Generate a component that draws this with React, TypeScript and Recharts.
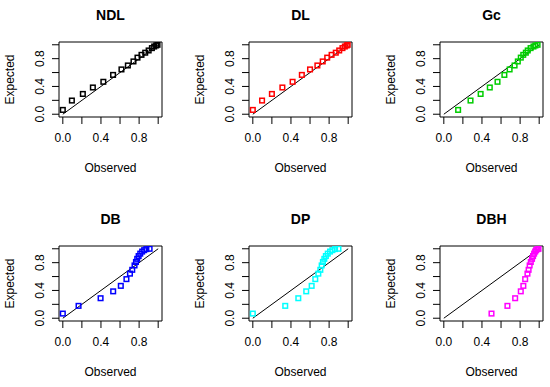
import React from 'react';
import { ScatterChart, Scatter, XAxis, YAxis, ReferenceLine, ReferenceArea } from 'recharts';

const FONT = '"Liberation Sans", Arial, Helvetica, sans-serif';

const panelNames = ['NDL', 'DL', 'Gc', 'DB', 'DP', 'DBH'];
const panelColors = ['#000000', '#FF0000', '#00CD00', '#0000FF', '#00FFFF', '#FF00FF'];

const expectedTop = [0.062, 0.197, 0.292, 0.385, 0.467, 0.566, 0.645, 0.702, 0.76, 0.815, 0.855, 0.886, 0.918, 0.952, 0.975, 0.99, 1.0];
const expectedBottom = [0.067, 0.178, 0.288, 0.387, 0.466, 0.563, 0.642, 0.697, 0.76, 0.81, 0.855, 0.895, 0.93, 0.96, 0.98, 0.995, 1.0];

const observedNDL = [0.0, 0.095, 0.21, 0.315, 0.425, 0.527, 0.615, 0.682, 0.741, 0.783, 0.825, 0.864, 0.9, 0.934, 0.958, 0.979, 0.993];
const observedDL = [0.0, 0.097, 0.2, 0.31, 0.417, 0.514, 0.6, 0.677, 0.733, 0.78, 0.826, 0.87, 0.906, 0.94, 0.965, 0.985, 0.995];
const observedGc = [0.15, 0.28, 0.386, 0.482, 0.563, 0.635, 0.69, 0.742, 0.776, 0.807, 0.833, 0.86, 0.88, 0.91, 0.94, 0.96, 0.983];
const observedDB = [0.0, 0.165, 0.396, 0.528, 0.608, 0.667, 0.704, 0.728, 0.752, 0.767, 0.78, 0.795, 0.812, 0.832, 0.853, 0.876, 0.91];
const observedDP = [0.0, 0.34, 0.477, 0.56, 0.617, 0.655, 0.687, 0.708, 0.722, 0.735, 0.75, 0.766, 0.786, 0.81, 0.834, 0.862, 0.898];
const observedDBH = [0.5, 0.667, 0.748, 0.807, 0.834, 0.853, 0.877, 0.889, 0.9, 0.912, 0.925, 0.936, 0.947, 0.958, 0.968, 0.982, 0.993];

const axisTicks = [0, 0.2, 0.4, 0.6, 0.8, 1.0];
const labeledTicks = [0, 0.4, 0.8];
const xLabel = 'Observed';
const yLabel = 'Expected';

const DOMAIN: [number, number] = [-0.04, 1.04];

// layout
const CW = 190;
const CH = 200;
const PL = 59;
const PW = 103;
const PT = 42;
const PH = 75;
const XH = 40;
const colLefts = [0, 189.6, 380.5];
const rowTops = [0, 204.2];

const isLabeled = (v: number) => labeledTicks.some((t) => Math.abs(t - v) < 1e-9);
const fmt = (v: number) => (isLabeled(v) ? v.toFixed(1) : '');

const YTick = (props: any) => {
  const { x, y, payload } = props;
  if (!isLabeled(payload.value)) return null;
  const bx = x - 8.1;
  return (
    <text
      x={bx}
      y={y}
      transform={`rotate(-90 ${bx} ${y})`}
      textAnchor="middle"
      fontSize={12}
      fontFamily={FONT}
      fill="#000"
    >
      {payload.value.toFixed(1)}
    </text>
  );
};

const makeSquare = (color: string) => (props: any) => {
  const { cx, cy } = props;
  if (cx == null || cy == null) return <g />;
  return (
    <rect x={cx - 2.3} y={cy - 2.3} width={4.6} height={4.6} fill="none" stroke={color} strokeWidth={1.5} />
  );
};

const panelObserved = [observedNDL, observedDL, observedGc, observedDB, observedDP, observedDBH];

function Panel({ idx }: { idx: number }) {
  const row = Math.floor(idx / 3);
  const col = idx % 3;
  const expected = row === 0 ? expectedTop : expectedBottom;
  const data = panelObserved[idx].map((x, i) => ({ x, y: expected[i] }));
  const color = panelColors[idx];
  const cxMid = PL + PW / 2;
  return (
    <div style={{ position: 'absolute', left: colLefts[col], top: rowTops[row], width: CW, height: CH }}>
      <ScatterChart
        width={CW}
        height={CH}
        margin={{ top: PT, right: CW - PL - PW, bottom: CH - PT - PH - XH, left: 0 }}
      >
        <XAxis
          type="number"
          dataKey="x"
          domain={DOMAIN}
          ticks={axisTicks}
          allowDataOverflow
          interval={0}
          axisLine={false}
          tickSize={7}
          tickMargin={9}
          tickLine={{ stroke: '#000', strokeWidth: 1 }}
          tick={{ fill: '#000', fontSize: 12, fontFamily: FONT }}
          tickFormatter={fmt}
          height={XH}
        />
        <YAxis
          type="number"
          dataKey="y"
          domain={DOMAIN}
          ticks={axisTicks}
          allowDataOverflow
          interval={0}
          axisLine={false}
          tickSize={7}
          tickMargin={0}
          tickLine={{ stroke: '#000', strokeWidth: 1 }}
          tick={YTick}
          width={PL}
        />
        <ReferenceArea
          x1={DOMAIN[0]}
          x2={DOMAIN[1]}
          y1={DOMAIN[0]}
          y2={DOMAIN[1]}
          fill="none"
          fillOpacity={0}
          stroke="#000"
          strokeWidth={1}
          ifOverflow="visible"
        />
        <ReferenceLine
          segment={[{ x: 0, y: 0 }, { x: 1, y: 1 }]}
          stroke="#000"
          strokeWidth={1}
          ifOverflow="visible"
        />
        <Scatter data={data} isAnimationActive={false} shape={makeSquare(color)} />
      </ScatterChart>
      <svg
        width={CW}
        height={CH}
        style={{ position: 'absolute', left: 0, top: 0, pointerEvents: 'none' }}
      >
        <text x={cxMid} y={20} textAnchor="middle" fontSize={14} fontWeight="bold" fontFamily={FONT} fill="#000">
          {panelNames[idx]}
        </text>
        <text x={cxMid} y={172} textAnchor="middle" fontSize={12} fontFamily={FONT} fill="#000">
          {xLabel}
        </text>
        <text
          x={13.5}
          y={PT + PH / 2}
          transform={`rotate(-90 13.5 ${PT + PH / 2})`}
          textAnchor="middle"
          fontSize={12}
          fontFamily={FONT}
          fill="#000"
        >
          {yLabel}
        </text>
      </svg>
    </div>
  );
}

export default function App() {
  return (
    <div style={{ position: 'absolute', left: 0, top: 0, width: 550, height: 387, background: '#fff', overflow: 'hidden' }}>
      {panelNames.map((_, i) => (
        <Panel key={i} idx={i} />
      ))}
    </div>
  );
}
